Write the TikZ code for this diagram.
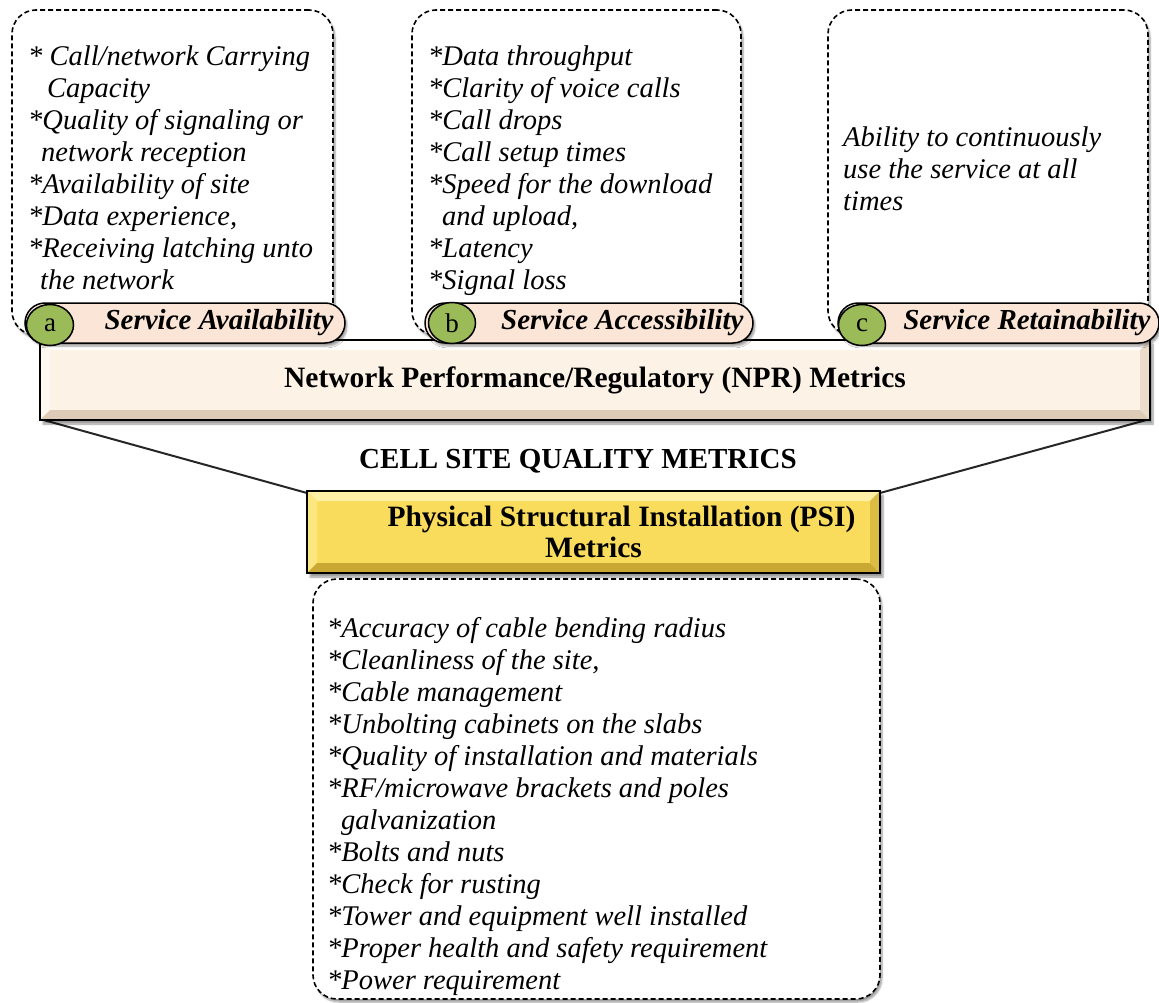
\documentclass[tikz,border=0pt]{standalone}
\usepackage{fontspec}
\setmainfont{Liberation Serif}
\usetikzlibrary{shapes.misc,shapes.geometric,shadows.blur,positioning}
\definecolor{pillfill}{HTML}{FBE5D6}
\definecolor{tagfill}{HTML}{9BBB59}
\definecolor{nprface}{HTML}{FDF2E6}
\definecolor{nprlight}{HTML}{FFFEFC}
\definecolor{nprdark}{HTML}{DDCBB8}
\definecolor{psiface}{HTML}{F9DC5C}
\definecolor{psilight}{HTML}{FFF0A6}
\definecolor{psidark}{HTML}{C9A834}
\tikzset{
  note/.style    = {rectangle, rounded corners=24pt, draw=black, line width=1.6pt,
                    dash pattern=on 5pt off 3pt, fill=white,
                    blur shadow={shadow xshift=2pt, shadow yshift=-3pt, shadow blur steps=6}},
  lst/.style     = {anchor=north west, align=left, inner sep=0pt, font=\fontsize{28.5}{32}\selectfont\itshape},
  pill/.style    = {rounded rectangle, draw=black, line width=1.5pt, fill=pillfill, minimum height=40pt, inner sep=0pt,
                    blur shadow={shadow xshift=2pt, shadow yshift=-3pt, shadow blur steps=6}},
  tag/.style     = {ellipse, draw=black, line width=1.5pt, fill=tagfill, minimum width=47pt, minimum height=41pt,
                    inner sep=0pt, font=\fontsize{27}{27}\selectfont},
  pilltxt/.style = {anchor=east, inner sep=0pt, font=\fontsize{29}{29}\selectfont\bfseries\itshape},
  bar/.style     = {rectangle, draw=black, line width=2.6pt, inner sep=0pt, align=center,
                    font=\fontsize{29.5}{31}\selectfont\bfseries,
                    blur shadow={shadow xshift=3pt, shadow yshift=-4pt, shadow blur steps=6}},
  bevel/.style n args={3}{fill=#1, path picture={
    \fill[#2] (path picture bounding box.north west) -- (path picture bounding box.north east)
      -- ([xshift=-10pt,yshift=-10pt]path picture bounding box.north east)
      -- ([xshift=10pt,yshift=-10pt]path picture bounding box.north west) -- cycle;
    \fill[#2!50!#1] (path picture bounding box.north west) -- ([xshift=10pt,yshift=-10pt]path picture bounding box.north west)
      -- ([xshift=10pt,yshift=10pt]path picture bounding box.south west) -- (path picture bounding box.south west) -- cycle;
    \fill[#3] (path picture bounding box.south west) -- (path picture bounding box.south east)
      -- ([xshift=-10pt,yshift=10pt]path picture bounding box.south east)
      -- ([xshift=10pt,yshift=10pt]path picture bounding box.south west) -- cycle;
    \fill[#3!60!#1] (path picture bounding box.north east) -- ([xshift=-10pt,yshift=-10pt]path picture bounding box.north east)
      -- ([xshift=-10pt,yshift=10pt]path picture bounding box.south east) -- (path picture bounding box.south east) -- cycle;
  }},
  fun/.style     = {draw=black!85, line width=2pt},
}
\begin{document}
\begin{tikzpicture}[x=1pt, y=-1pt]
  \useasboundingbox (0,0) rectangle (1159,1003);

  % the three dashed notes on top
  \node[note, minimum width=321pt, minimum height=325pt] (boxA) at (172.5,172.5) {};
  \node[note, minimum width=329pt, minimum height=325pt] (boxB) at (576.5,172.5) {};
  \node[note, minimum width=320pt, minimum height=325pt] (boxC) at (988,172.5) {};

  \node[lst] (txtA) at (28,46) {* Call/network Carrying\\
    \hspace*{19pt}Capacity\\
    *Quality of signaling or\\
    \hspace*{13pt}network reception\\
    *Availability of site\\
    *Data experience,\\
    *Receiving latching unto\\
    \hspace*{12pt}the network};
  \node[lst] (txtB) at (428,46) {*Data throughput\\
    *Clarity of voice calls\\
    *Call drops\\
    *Call setup times\\
    *Speed for the download\\
    \hspace*{14pt}and upload,\\
    *Latency\\
    *Signal loss};
  \node[lst] (txtC) at (843,127) {Ability to continuously\\
    use the service at all\\
    times};

  % funnel between the two bars
  \coordinate (fl) at (40,419);
  \coordinate (fr) at (1150,419);
  \draw[fun] (fl) -- (307,493);
  \draw[fun] (fr) -- (880,493);

  % NPR bar
  \node[bar, bevel={nprface}{nprlight}{nprdark}, minimum width=1110pt, minimum height=80pt] (npr) at (595,380)
    {Network Performance/Regulatory (NPR) Metrics};

  % pills with letter tags
  \node[pill, minimum width=320pt] (pillA) at (185,323) {};
  \node[pill, minimum width=328pt] (pillB) at (589,323) {};
  \node[pill, minimum width=321pt] (pillC) at (998.5,323) {};
  \node[pilltxt] at ([xshift=-12pt]pillA.east) {Service Availability};
  \node[pilltxt] at ([xshift=-10pt]pillB.east) {Service Accessibility};
  \node[pilltxt] at ([xshift=-9pt]pillC.east) {Service Retainability};
  \node[tag] (tagA) at (50,325) {a};
  \node[tag] (tagB) at (452,323) {b};
  \node[tag] (tagC) at (862,325) {c};

  \node[font=\fontsize{29}{29}\selectfont\bfseries] (cellsite) at (578,461) {CELL SITE QUALITY METRICS};

  % PSI bar and its list
  \node[bar, bevel={psiface}{psilight}{psidark}, minimum width=573pt, minimum height=82pt] (psi) at (593.5,532)
    {\hspace*{56pt}Physical Structural Installation (PSI)\\Metrics};
  \node[note, minimum width=567pt, minimum height=420pt] (boxPSI) at (596.5,789) {};
  \node[lst] (txtPSI) at (327,617) {*Accuracy of cable bending radius\\
    *Cleanliness of the site,\\
    *Cable management\\
    *Unbolting cabinets on the slabs\\
    *Quality of installation and materials\\
    *RF/microwave brackets and poles\\
    \hspace*{14pt}galvanization\\
    *Bolts and nuts\\
    *Check for rusting\\
    *Tower and equipment well installed\\
    *Proper health and safety requirement\\
    *Power requirement};
\end{tikzpicture}
\end{document}
